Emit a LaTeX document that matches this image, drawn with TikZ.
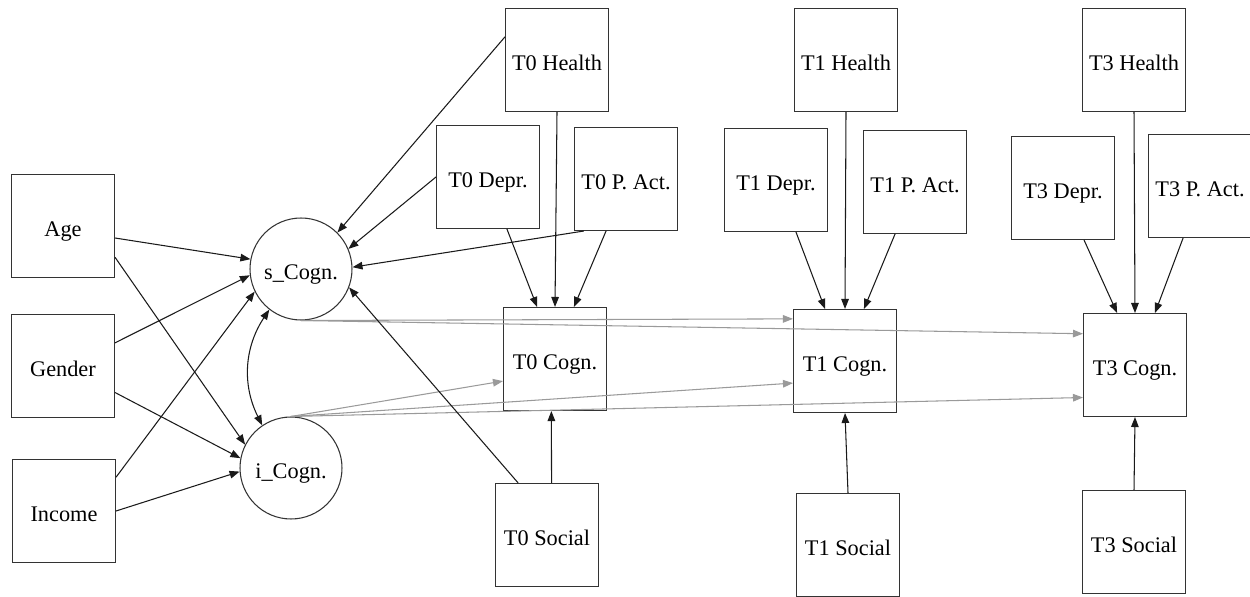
\documentclass[tikz,border=0pt]{standalone}
\usepackage{fontspec}
\setmainfont{Liberation Serif}
\usetikzlibrary{arrows.meta}
\definecolor{edgeblack}{HTML}{1A1A1A}
\definecolor{edgegray}{HTML}{9A9A9A}
\definecolor{boxline}{HTML}{333333}
\tikzset{
  obsbox/.style={draw=boxline, line width=0.6pt, minimum width=2.06cm, minimum height=2.06cm, inner sep=0pt, text height=12.4pt, text depth=0pt, font=\fontsize{12.7}{15}\selectfont},
  latent/.style={draw=boxline, line width=0.6pt, circle, minimum size=2.04cm, inner sep=0pt, text height=12.4pt, text depth=0pt, font=\fontsize{12.7}{15}\selectfont},
  blk/.style={draw=edgeblack, line width=0.6pt, -{Triangle[length=5.7pt,width=4.3pt]}},
  gry/.style={draw=edgegray, line width=0.6pt, -{Triangle[length=5.7pt,width=4.3pt]}},
  cov/.style={draw=edgeblack, line width=0.6pt, {Triangle[length=5.7pt,width=4.3pt]}-{Triangle[length=5.7pt,width=4.3pt]}}
}
\begin{document}
\begin{tikzpicture}[x=0.02cm, y=-0.02cm]
\useasboundingbox (0,0) rectangle (1250,597);
% exogenous
\node[obsbox] (age) at (63,226) {Age};
\node[obsbox] (gender) at (63,366) {Gender};
\node[obsbox] (income) at (64,511) {Income};
% latent
\node[latent] (s) at (301,269) {s\_Cogn.};
\node[latent] (i) at (291,468) {i\_Cogn.};
% T0
\node[obsbox] (h0) at (557,60) {T0 Health};
\node[obsbox] (d0) at (488,177) {T0 Depr.};
\node[obsbox] (p0) at (626,179) {T0 P. Act.};
\node[obsbox] (c0) at (555,359) {T0 Cogn.};
\node[obsbox] (so0) at (547,535) {T0 Social};
% T1
\node[obsbox] (h1) at (846,60) {T1 Health};
\node[obsbox] (d1) at (776,180) {T1 Depr.};
\node[obsbox] (p1) at (915,182) {T1 P. Act.};
\node[obsbox] (c1) at (845,361) {T1 Cogn.};
\node[obsbox] (so1) at (848,545) {T1 Social};
% T3
\node[obsbox] (h3) at (1134,60) {T3 Health};
\node[obsbox] (d3) at (1063,188) {T3 Depr.};
\node[obsbox] (p3) at (1200,186) {T3 P. Act.};
\node[obsbox] (c3) at (1135,365) {T3 Cogn.};
\node[obsbox] (so3) at (1134,542) {T3 Social};

% gray loadings
\draw[gry] (s.south) -- (c1.141);
\draw[gry] (s.south) -- (c3.149.5);
\draw[gry] (i.north) -- (c0.203.3);
\draw[gry] (i.north) -- (c1.203.9);
\draw[gry] (i.north) -- (c3.212.9);

% covariates to latent
\draw[blk] (age.-13.2) -- (s.169);
\draw[blk] (age.-31.3) -- (i.153);
\draw[blk] (gender.24.3) -- (s.187);
\draw[blk] (gender.-27) -- (i.169);
\draw[blk] (income.33.7) -- (s.206.6);
\draw[blk] (income.0) -- (i.184.5);
\draw[blk] (h0.156.7) -- (s.45.8);
\draw[blk] (d0.180) -- (s.23.2);
\draw[blk] (p0.231) -- (s.2);
\draw[blk] (so0.119.6) -- (s.-21.2);
\draw[cov] (s.232) to[bend right=30] (i.124);

% time-varying covariates
\draw[blk] (d0.-70) -- (c0.109);
\draw[blk] (h0.south) -- (c0.north);
\draw[blk] (p0.-111.4) -- (c0.70);
\draw[blk] (so0.85.5) -- (c0.-94.5);

\draw[blk] (d1.-69.6) -- (c1.111.4);
\draw[blk] (h1.south) -- (c1.north);
\draw[blk] (p1.-111.4) -- (c1.70.6);
\draw[blk] (so1.north) -- (c1.south);

\draw[blk] (d3.-68.6) -- (c3.109);
\draw[blk] (h3.south) -- (c3.north);
\draw[blk] (p3.-108.4) -- (c3.69);
\draw[blk] (so3.north) -- (c3.south);
\end{tikzpicture}
\end{document}
